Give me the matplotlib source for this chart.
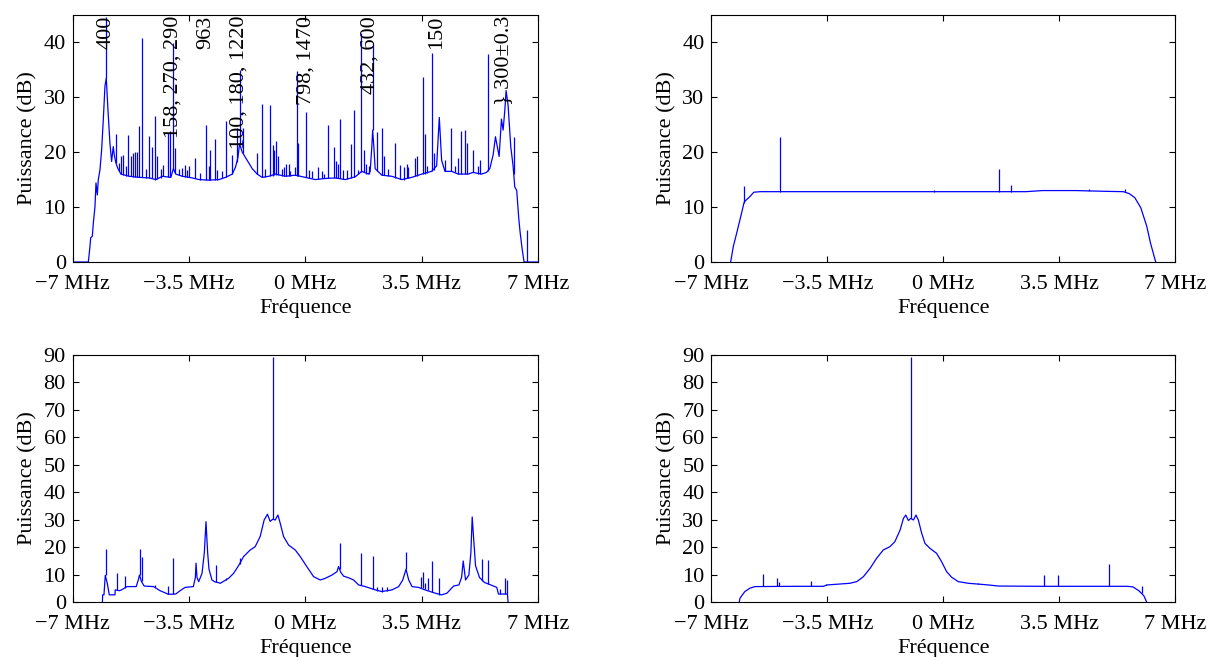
import matplotlib
matplotlib.use("Agg")
import matplotlib.pyplot as plt

plt.rcParams["font.family"] = ["Liberation Serif", "DejaVu Serif"]
plt.rcParams["font.size"] = 16

# ---- top left: spectrum with annotated lines ----
tl_freq = [-7.0, -6.53, -6.48, -6.46, -6.41, -6.38, -6.33, -6.30, -6.26, -6.23,
           -6.18, -6.13, -6.08, -6.03, -5.99, -5.94, -5.88, -5.83, -5.78, -5.75,
           -5.70, -5.64, -5.55, -5.30, -5.0, -4.7, -4.5, -4.3, -4.05, -3.97,
           -3.90, -3.70, -3.40, -3.20, -2.90, -2.60, -2.40, -2.20, -2.10, -2.03,
           -1.98, -1.90, -1.75, -1.60, -1.45, -1.30, -1.10, -0.90, -0.60, -0.30,
           0.0, 0.30, 0.60, 0.90, 1.20, 1.50, 1.70, 1.90, 1.95, 2.00,
           2.025, 2.06, 2.10, 2.30, 2.60, 2.90, 3.20, 3.50, 3.80, 3.95,
           4.03, 4.10, 4.20, 4.40, 4.60, 4.90, 5.04, 5.30, 5.45, 5.55,
           5.65, 5.72, 5.79, 5.83, 5.90, 5.95, 6.00, 6.04, 6.10, 6.18,
           6.25, 6.30, 6.36, 6.42, 6.46, 6.52, 6.58, 7.0]
tl_db = [0, 0, 2.9, 4.4, 4.7, 7.1, 10.1, 14.4, 12.2, 15.0,
         16.8, 20.4, 25.9, 32.0, 33.5, 27.7, 21.6, 18.3, 21.0, 19.5,
         18.0, 17.0, 16.0, 15.6, 15.4, 15.3, 15.0, 15.6, 15.4, 17.0,
         16.0, 15.6, 15.3, 15.0, 14.9, 15.0, 15.4, 16.0, 17.3, 19.0,
         21.5, 20.0, 18.5, 17.0, 16.0, 15.4, 15.6, 16.0, 15.6, 15.8,
         15.4, 15.0, 15.2, 15.3, 15.0, 15.5, 16.5, 16.0, 16.5, 21.0,
         24.0, 21.0, 17.0, 15.8, 15.6, 15.0, 15.4, 16.0, 16.5, 17.5,
         26.3, 18.5, 16.5, 16.5, 16.0, 16.0, 16.3, 16.0, 16.3, 17.0,
         19.5, 22.8, 20.5, 19.2, 26.0, 24.0, 27.5, 31.2, 28.5, 21.0,
         17.5, 13.7, 13.0, 8.0, 5.5, 2.5, 0, 0]
tl_spike_f = [-5.99, -5.695, -5.60, -5.544, -5.474, -5.40, -5.323, -5.253, -5.193, -5.123,
              -5.052, -4.992, -4.912, -4.80, -4.691, -4.620, -4.520, -4.450, -4.35, -4.269,
              -4.139, -4.068, -3.968, -3.918, -3.80, -3.717, -3.616, -3.55, -3.516, -3.315,
              -3.165, -2.994, -2.914, -2.863, -2.723, -2.663, -2.50, -2.382, -2.211, -2.060,
              -1.980, -1.880, -1.458, -1.317, -1.20, -1.065, -0.987, -0.937, -0.877, -0.826,
              -0.70, -0.656, -0.586, -0.505, -0.45, -0.325, -0.254, -0.224, 0.017, 0.097,
              0.20, 0.368, 0.50, 0.549, 0.690, 0.850, 0.930, 0.981, 1.051, 1.121,
              1.25, 1.362, 1.463, 1.583, 1.674, 1.764, 1.824, 1.90, 2.025, 2.165,
              2.306, 2.356, 2.50, 2.708, 2.858, 2.958, 3.059, 3.10, 3.290, 3.370,
              3.541, 3.591, 3.65, 3.802, 3.862, 4.214, 4.374, 4.50, 4.60, 4.696,
              4.816, 4.866, 5.037, 5.20, 5.24, 5.49, 6.27, 6.68]
tl_spike_lo = [33.5, 18.0, 16.5, 16.0, 15.9, 15.7, 15.6, 15.6, 15.5, 15.5,
               15.4, 15.4, 15.4, 15.3, 15.3, 15.2, 15.0, 15.1, 15.3, 15.6,
               15.5, 15.4, 17.0, 16.2, 15.8, 15.6, 15.5, 15.4, 15.4, 15.2,
               15.0, 14.9, 14.9, 14.9, 15.0, 15.0, 15.2, 15.4, 16.0, 18.2,
               21.5, 19.8, 16.0, 15.4, 15.5, 15.6, 15.7, 15.8, 15.9, 15.8,
               15.6, 15.6, 15.6, 15.7, 15.7, 15.8, 15.7, 15.7, 15.4, 15.3,
               15.2, 15.1, 15.2, 15.2, 15.2, 15.3, 15.3, 15.3, 15.2, 15.1,
               15.1, 15.2, 15.4, 16.0, 16.4, 16.3, 16.1, 16.0, 24.0, 16.5,
               15.8, 15.8, 15.7, 15.3, 15.1, 15.0, 15.2, 15.2, 15.6, 15.7,
               16.0, 16.1, 16.2, 16.5, 16.8, 16.5, 16.5, 16.4, 16.1, 16.0,
               16.0, 16.0, 16.3, 16.1, 16.1, 16.5, 16.0, 0.0]
tl_spike_hi = [44.6, 23.3, 18.0, 19.2, 19.5, 17.5, 23.2, 19.2, 19.8, 20.1,
               20.1, 24.7, 40.8, 17.0, 22.9, 21.0, 26.6, 19.2, 17.0, 17.7,
               23.5, 23.8, 39.8, 20.8, 17.0, 17.1, 17.7, 16.8, 17.4, 18.9,
               16.2, 25.0, 17.4, 20.4, 22.3, 16.8, 16.5, 25.7, 19.4, 24.4,
               35.0, 24.4, 19.8, 28.7, 17.0, 28.6, 21.3, 20.4, 22.0, 19.2,
               17.0, 17.3, 17.8, 17.8, 16.6, 17.3, 34.8, 21.6, 27.3, 16.7,
               16.6, 17.3, 16.5, 16.1, 24.9, 21.0, 18.3, 17.9, 26.1, 16.7,
               16.8, 21.5, 27.7, 16.7, 41.6, 20.4, 17.9, 17.5, 39.8, 23.7,
               24.3, 19.2, 17.0, 21.6, 17.6, 17.3, 17.8, 17.3, 18.9, 19.3,
               33.6, 23.3, 17.5, 38.1, 19.8, 18.6, 24.3, 17.5, 19.0, 23.9,
               24.0, 21.6, 20.4, 17.5, 18.6, 37.9, 22.8, 5.9]
tl_labels = ["400", "158, 270, 290", "963", "100, 180, 1220",
             "798, 1470", "432, 600", "150", "} 300\u00b10.3"]
tl_label_f = [-5.98, -3.97, -2.99, -2.01, 0.02, 1.94, 3.96, 5.97]

# ---- top right ----
tr_freq = [-6.42, -6.34, -6.24, -6.09, -6.02, -6.00, -5.84, -5.72, -5.53, -3.0,
           0.0, 2.5, 3.0, 4.0, 5.0, 5.44, 5.62, 5.79, 5.97, 6.15, 6.26, 6.42]
tr_db = [0, 2.8, 5.2, 8.9, 10.7, 11.0, 11.9, 12.7, 12.8, 12.8,
         12.8, 12.8, 13.0, 13.0, 12.85, 12.8, 12.45, 11.7, 9.85, 6.5, 3.5, 0]
tr_spike_f = [-6.01, -4.94, -0.27, 1.686, 2.048, 4.40, 5.50]
tr_spike_lo = [10.8, 12.8, 12.8, 12.8, 12.8, 13.0, 12.8]
tr_spike_hi = [13.9, 22.8, 13.1, 16.9, 14.0, 13.35, 13.2]

# ---- bottom left ----
bl_freq = [-6.106, -6.10, -6.06, -6.02, -5.96, -5.90, -5.73, -5.72, -5.60, -5.53,
           -5.37, -5.09, -5.03, -4.99, -4.93, -4.85, -4.57, -4.37, -4.12, -3.90,
           -3.77, -3.62, -3.37, -3.31, -3.29, -3.26, -3.21, -3.11, -3.04, -2.99,
           -2.94, -2.90, -2.81, -2.72, -2.64, -2.56, -2.31, -2.16, -2.0, -1.86,
           -1.66, -1.51, -1.36, -1.24, -1.14, -1.06, -0.98, -0.907, -0.826, -0.756,
           -0.656, -0.505, -0.304, -0.154, 0.047, 0.248, 0.449, 0.60, 0.80, 0.95,
           1.0, 1.06, 1.15, 1.302, 1.45, 1.603, 1.804, 2.105, 2.3, 2.607,
           2.808, 2.93, 3.029, 3.11, 3.21, 3.41, 3.6, 3.91, 4.1, 4.26,
           4.46, 4.62, 4.70, 4.75, 4.82, 4.92, 4.98, 5.02, 5.07, 5.12,
           5.24, 5.39, 5.58, 5.76, 5.81, 5.95, 6.08, 6.10]
bl_db = [0, 2.7, 2.7, 9.8, 6.9, 2.7, 2.7, 4.5, 4.2, 4.5,
         5.7, 5.7, 8.0, 9.9, 7.5, 5.9, 5.7, 4.2, 2.9, 3.0,
         4.2, 5.4, 5.7, 9.0, 14.2, 9.0, 7.5, 10.5, 18.0, 29.3,
         18.0, 12.0, 8.1, 7.4, 7.2, 6.9, 8.7, 10.5, 13.5, 16.6,
         19.0, 20.2, 23.9, 29.9, 32.0, 29.4, 30.2, 29.9, 31.7, 28.7,
         23.9, 20.8, 19.0, 16.6, 12.9, 9.3, 8.1, 8.7, 9.9, 11.1,
         13.0, 11.0, 9.5, 8.9, 8.1, 6.3, 5.7, 4.5, 3.9, 4.5,
         5.7, 8.1, 12.0, 8.1, 5.7, 5.4, 4.5, 3.3, 2.7, 3.3,
         5.9, 6.3, 9.0, 15.0, 8.1, 9.9, 18.0, 31.0, 22.0, 13.3,
         9.0, 7.2, 6.3, 5.4, 3.0, 3.0, 3.0, 0]
bl_spike_f = [-5.996, -5.655, -5.434, -4.98, -4.92, -4.52, -4.14, -3.99, -2.68, -2.39,
              -1.98, -0.977, 1.031, 1.683, 2.025, 2.17, 2.31, 2.46, 3.029, 3.47,
              3.54, 3.61, 3.69, 3.80, 4.03, 5.32, 5.50, 5.87, 6.01, 6.08]
bl_spike_lo = [9.8, 4.3, 5.2, 9.9, 7.6, 5.4, 3.0, 3.0, 7.3, 8.0,
               13.8, 30.2, 12.0, 6.3, 5.0, 4.2, 3.9, 4.0, 12.0, 5.3,
               5.1, 4.8, 4.4, 3.8, 2.8, 7.8, 6.6, 3.0, 3.0, 3.0]
bl_spike_hi = [19.3, 10.8, 9.7, 19.4, 16.6, 6.3, 5.9, 16.0, 13.6, 8.9,
               16.0, 89.0, 21.4, 18.0, 16.8, 5.7, 5.7, 5.7, 18.4, 9.3,
               11.1, 6.9, 8.7, 15.0, 8.7, 15.7, 15.4, 4.8, 9.0, 8.2]

# ---- bottom right ----
br_freq = [-6.16, -6.14, -6.09, -5.99, -5.84, -5.69, -4.5, -3.62, -3.50, -2.82,
           -2.61, -2.41, -2.21, -2.01, -1.81, -1.61, -1.46, -1.30, -1.20, -1.13,
           -1.05, -0.98, -0.90, -0.82, -0.75, -0.65, -0.55, -0.40, -0.20, -0.05,
           0.105, 0.256, 0.457, 0.76, 1.364, 1.666, 3.0, 5.56, 5.73, 5.91,
           6.06, 6.15]
br_db = [0, 1.4, 2.3, 3.9, 5.1, 5.7, 5.8, 5.8, 6.3, 6.9,
         7.5, 9.3, 12.3, 16.0, 19.0, 20.2, 22.0, 26.3, 30.5, 31.7,
         29.7, 30.5, 29.9, 31.7, 29.9, 25.1, 21.4, 19.6, 17.8, 14.8,
         11.1, 9.1, 7.5, 6.9, 6.3, 5.9, 5.8, 5.8, 5.6, 4.2,
         2.4, 0]
br_spike_f = [-5.43, -5.01, -4.95, -4.0, -3.54, -0.983, 1.04, 3.05, 3.48, 5.01, 6.0]
br_spike_lo = [5.75, 5.8, 5.8, 5.8, 6.1, 30.5, 6.5, 5.8, 5.8, 5.8, 3.2]
br_spike_hi = [10.3, 8.7, 7.5, 7.8, 6.6, 89.0, 7.1, 9.9, 9.9, 13.9, 6.0]

xticks = [-7, -3.5, 0, 3.5, 7]
xticklabels = ["\u22127 MHz", "\u22123.5 MHz", "0 MHz", "3.5 MHz", "7 MHz"]


def draw_panel(ax, freq, db, sp_f, sp_lo, sp_hi, ymax):
    ax.plot(freq, db, color="blue", lw=0.9)
    ax.vlines(sp_f, sp_lo, sp_hi, color="blue", lw=0.9)
    ax.set_xlim(-7, 7)
    ax.set_ylim(0, ymax)
    ax.set_xticks(xticks)
    ax.set_xticklabels(xticklabels)
    ax.set_yticks(range(0, ymax + 1, 10) if ymax == 90 else range(0, 41, 10))
    ax.tick_params(direction="in", top=True, right=True, length=4, width=0.8)
    ax.tick_params(axis="x", pad=9)
    ax.tick_params(axis="y", pad=5)
    for s in ax.spines.values():
        s.set_linewidth(0.8)
    ax.set_xlabel("Fr\u00e9quence", labelpad=4)
    ax.set_ylabel("Puissance (dB)", labelpad=4)


fig = plt.figure(figsize=(12.12, 6.57), dpi=100)
ax_tl = fig.add_axes([0.060, 0.6012, 0.3839, 0.3764])
ax_tr = fig.add_axes([0.587, 0.6012, 0.3824, 0.3764])
ax_bl = fig.add_axes([0.060, 0.0833, 0.3839, 0.3769])
ax_br = fig.add_axes([0.587, 0.0833, 0.3824, 0.3769])

draw_panel(ax_tl, tl_freq, tl_db, tl_spike_f, tl_spike_lo, tl_spike_hi, 45)
draw_panel(ax_tr, tr_freq, tr_db, tr_spike_f, tr_spike_lo, tr_spike_hi, 45)
draw_panel(ax_bl, bl_freq, bl_db, bl_spike_f, bl_spike_lo, bl_spike_hi, 90)
draw_panel(ax_br, br_freq, br_db, br_spike_f, br_spike_lo, br_spike_hi, 90)

for lab, f in zip(tl_labels, tl_label_f):
    ax_tl.text(f, 44.8, lab, rotation=90, ha="center", va="top")

fig.savefig("out.png", dpi=100)
